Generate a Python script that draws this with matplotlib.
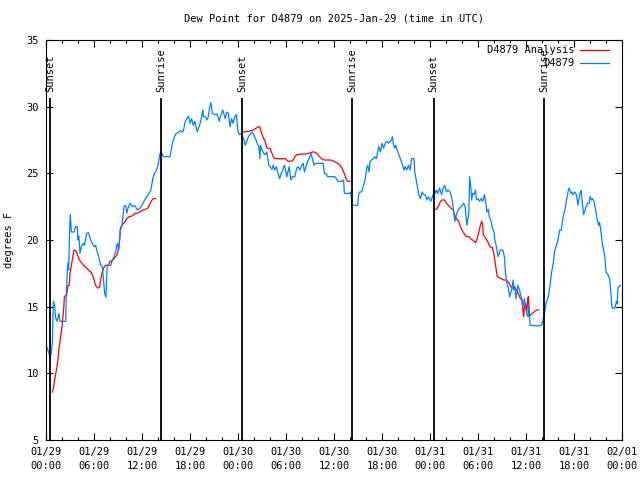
import numpy as np
import matplotlib
matplotlib.use("Agg")
import matplotlib.pyplot as plt

plt.rcParams['font.family'] = ['DejaVu Sans Mono']
plt.rcParams['font.size'] = 7.5

# hours since 2025-01-29 00:00 UTC, dew point in F
obs_hours = [0.08, 0.375, 0.5, 0.65, 0.8, 0.92, 1.08, 1.2, 1.4, 1.6, 1.75, 2.0, 2.46, 2.54, 2.67, 2.75, 2.83,
             2.96, 3.04, 3.17, 3.5, 3.7, 3.9, 4.0, 4.1, 4.25, 4.4, 4.65, 4.8, 5.08, 5.3, 5.58, 5.8, 6.0, 6.2,
             6.4, 6.6, 6.83, 7.05, 7.2, 7.33, 7.5, 7.58, 7.67, 8.08, 8.3, 8.5, 8.7, 8.9, 9.1, 9.3, 9.5, 9.65,
             9.75, 9.95, 10.1, 10.25, 10.5, 10.8, 11.1, 11.4, 11.75, 12.0, 12.33, 12.6, 12.9, 13.1, 13.4, 13.6,
             13.8, 14.0, 14.25, 14.4, 14.7, 15.5, 15.7, 15.9, 16.2, 16.5, 16.8, 17.1, 17.25, 17.4, 17.6, 17.8,
             18.0, 18.2, 18.4, 18.6, 18.9, 19.2, 19.4, 19.6, 19.7, 19.9, 20.1, 20.3, 20.4, 20.6, 20.8, 21.1,
             21.4, 21.65, 21.8, 22.1, 22.4, 22.6, 22.8, 23.0, 23.2, 23.4, 23.6, 23.8, 24.0, 24.2, 24.4, 24.7,
             24.9, 25.1, 25.3, 25.5, 25.75, 25.95, 26.2, 26.4, 26.6, 26.75, 26.8, 27.0, 27.2, 27.4, 27.6,
             27.85, 28.0, 28.25, 28.4, 28.6, 28.8, 29.0, 29.2, 29.4, 29.6, 29.8, 29.95, 30.1, 30.3, 30.4,
             30.6, 30.8, 31.1, 31.35, 31.5, 31.75, 31.95, 32.15, 32.3, 32.5, 32.7, 32.9, 33.1, 33.3, 33.5,
             33.7, 34.45, 34.65, 34.8, 35.0, 35.2, 36.1, 36.3, 36.5, 36.96, 37.2, 37.3, 37.6, 38.0, 38.1,
             38.25, 38.95, 39.1, 39.2, 39.45, 39.7, 39.9, 40.1, 40.2, 40.4, 40.5, 40.7, 40.9, 41.1, 41.3,
             41.5, 41.6, 41.8, 42.0, 42.2, 42.4, 42.6, 42.8, 43.0, 43.2, 43.3, 43.45, 43.6, 43.7, 43.9, 44.1,
             44.3, 44.5, 44.75, 44.9, 45.1, 45.3, 45.5, 45.7, 46.0, 46.1, 46.4, 46.6, 46.8, 47.0, 47.2, 47.4,
             47.6, 47.8, 48.1, 48.4, 48.5, 48.7, 48.8, 49.0, 49.2, 49.45, 49.65, 49.85, 50.05, 50.25, 50.5,
             50.7, 50.9, 51.1, 51.3, 51.5, 51.9, 52.2, 52.4, 52.5, 52.6, 52.85, 52.95, 53.1, 53.2, 53.35,
             53.5, 53.7, 53.8, 54.0, 54.2, 54.4, 54.6, 54.8, 55.0, 55.1, 55.3, 55.4, 55.6, 55.8, 56.0, 56.1,
             56.3, 56.5, 56.7, 56.8, 57.1, 57.3, 57.4, 57.6, 57.8, 57.95, 58.2, 58.4, 58.5, 58.6, 58.75,
             58.9, 59.0, 59.2, 59.5, 59.6, 59.8, 59.95, 60.1, 60.25, 60.4, 60.5, 60.9, 61.3, 61.9, 62.1,
             62.3, 62.5, 62.8, 63.0, 63.2, 63.4, 63.6, 63.8, 64.0, 64.2, 64.4, 64.6, 64.9, 65.1, 65.3, 65.4,
             65.6, 65.7, 65.9, 66.1, 66.3, 66.5, 66.7, 66.9, 67.0, 67.2, 67.4, 67.5, 67.7, 67.9, 68.0, 68.2,
             68.3, 68.5, 68.7, 68.9, 69.1, 69.2, 69.4, 69.5, 69.7, 69.85, 70.0, 70.25, 70.45, 70.6, 70.75,
             71.1, 71.3, 71.4, 71.5, 71.8]
obs_dewpt = [12.0, 11.5, 11.15, 11.5, 12.4, 15.4, 15.1, 14.15, 13.9, 14.5, 13.9, 13.9, 13.9, 16.0, 17.75, 18.3, 17.75,
             20.9, 21.9, 20.6, 20.6, 21.0, 21.0, 20.0, 20.3, 19.0, 19.5, 19.75, 19.6, 20.5, 20.55, 20.0, 19.75, 19.5, 19.6,
             19.1, 18.75, 18.1, 18.0, 16.9, 16.0, 15.7, 17.3, 18.1, 18.1, 18.5, 18.75, 19.1, 19.75, 19.25, 20.75, 21.1, 22.0,
             22.5, 22.6, 22.0, 22.4, 22.75, 22.5, 22.6, 22.25, 22.4, 22.6, 23.0, 23.25, 23.5, 23.75, 24.75, 25.0,
             25.25, 25.6, 26.5, 26.6, 26.25, 26.25, 26.9, 27.5, 27.95, 28.05, 28.2, 28.1, 28.4, 28.9, 29.1, 29.3,
             28.75, 29.1, 28.6, 28.9, 28.1, 28.6, 29.1, 29.75, 29.25, 29.25, 29.0, 29.25, 29.75, 30.3, 29.5, 29.4,
             29.45, 28.9, 29.25, 29.75, 29.1, 29.6, 29.5, 28.5, 29.1, 28.75, 29.25, 29.4, 28.1, 27.9, 28.0, 27.6,
             27.1, 27.4, 27.75, 27.9, 28.1, 27.9, 27.6, 27.25, 27.0, 26.1, 27.1, 26.75, 26.5, 26.4, 26.6,
             25.6, 25.5, 25.3, 25.6, 25.25, 25.5, 25.0, 24.6, 25.0, 25.25, 25.6, 25.25, 24.75, 25.25, 25.5,
             24.5, 24.75, 24.75, 25.4, 25.5, 25.25, 25.6, 25.75, 25.1, 25.5, 25.9, 26.1, 26.5, 26.1, 25.6,
             25.75, 25.75, 25.75, 25.0, 25.0, 24.75, 24.75, 24.6, 24.4, 24.4, 24.5, 23.5, 23.5, 23.5, 23.6,
             22.6, 22.6, 23.5, 23.6, 23.6, 24.1, 24.6, 25.4, 25.6, 25.1, 25.9, 26.0, 26.1, 26.25, 26.1,
             26.75, 27.0, 26.6, 27.25, 26.9, 27.25, 27.4, 27.25, 27.4, 27.5, 27.75, 27.1, 26.9, 27.1, 26.75, 26.4,
             26.1, 25.75, 25.25, 25.5, 25.25, 25.6, 25.25, 26.1, 26.1, 25.1, 24.1, 23.4, 23.1, 23.6, 23.4, 23.4,
             23.0, 23.25, 22.9, 23.4, 23.75, 23.5, 23.75, 23.5, 23.9, 23.4, 23.9, 24.1, 23.6, 23.75, 23.6,
             23.25, 22.4, 21.4, 21.9, 22.25, 22.5, 22.75, 22.5, 21.75, 21.1, 22.0, 24.75, 24.0, 23.0, 23.5,
             23.4, 23.75, 23.0, 23.1, 22.9, 23.1, 22.9, 23.4, 22.75, 22.1, 22.3, 21.75, 21.5, 20.9, 20.6, 20.0,
             19.5, 18.75, 19.1, 19.25, 19.25, 18.75, 17.75, 16.75, 16.4, 15.75, 16.25, 17.0, 16.25, 16.5, 15.6,
             16.2, 16.6, 16.2, 15.5, 15.0, 15.6, 14.9, 14.5, 14.25, 15.0, 13.6, 13.6, 13.55, 13.6, 13.9,
             14.5, 15.25, 15.75, 16.6, 17.6, 18.25, 19.25, 19.6, 20.0, 20.75, 20.7, 21.6, 22.4, 23.1, 23.75, 23.9,
             23.5, 23.6, 23.4, 23.6, 23.4, 22.6, 23.4, 23.75, 23.0, 21.9, 22.25, 22.5, 22.75, 22.75, 23.25, 23.0,
             23.1, 22.9, 22.25, 21.5, 21.1, 21.3, 20.5, 19.9, 19.25, 18.75, 17.6, 17.4, 17.1, 16.1, 14.9,
             14.9, 15.4, 15.2, 16.4, 16.6]

anl_hours = [0.8, 0.95, 1.1, 1.3, 1.5, 1.6, 1.8, 2.0, 2.2, 2.3, 2.6, 2.75, 2.9, 3.0, 3.25, 3.5, 3.7, 3.9, 4.1,
             4.3, 4.5, 4.7, 4.9, 5.1, 5.3, 5.6, 5.8, 6.0, 6.2, 6.45, 6.7, 6.9, 7.1, 7.4, 7.8, 8.0, 8.2, 8.5,
             8.7, 8.9, 9.1, 9.2, 9.3, 9.5, 9.9, 10.1, 10.4, 10.75, 11.1, 11.4, 11.7, 12.0, 12.4, 12.75, 12.9,
             13.2, 13.4, 13.7,
             np.nan,
             24.7, 25.3, 25.9, 26.3, 26.6, 26.7, 26.9, 27.1, 27.4, 27.6, 28.0, 28.25, 28.4, 28.6, 29.25, 29.9,
             30.1, 30.3, 30.6, 30.9, 31.1, 31.35, 31.5, 32.0, 32.4, 32.9, 33.3, 33.6, 33.9, 34.2, 34.45, 34.75,
             35.2, 35.6, 36.0, 36.45, 36.75, 37.0, 37.2, 37.35, 37.5, 37.7, 38.0,
             np.nan,
             48.5, 48.8, 49.1, 49.3, 49.5, 49.8, 50.0, 50.3, 50.6, 50.9, 51.0, 51.3, 51.6, 51.8, 52.0, 52.25,
             52.45, 52.7, 52.9, 53.1, 53.3, 53.5, 53.7, 53.9, 54.1, 54.3, 54.45, 54.6, 54.65, 55.0, 55.2, 55.4,
             55.6, 55.8, 56.0, 56.2, 56.4, 56.6, 56.9, 57.2, 57.5, 57.7, 57.9, 58.1, 58.3, 58.6, 58.8, 59.1,
             59.3, 59.5, 59.6, 59.7, 59.8, 59.95, 60.1, 60.2, 60.3, 60.4, 60.6, 60.8, 61.0, 61.3, 61.6]
anl_dewpt = [8.6, 9.0, 9.6, 10.25, 11.0, 11.75, 12.6, 13.5, 14.75, 15.75, 15.9, 16.6, 16.6, 17.5, 18.4, 19.25, 19.2,
             19.0, 18.6, 18.4, 18.25, 18.1, 18.0, 17.9, 17.75, 17.6, 17.4, 17.0, 16.6, 16.4, 16.45, 17.25, 17.75,
             18.1, 18.1, 18.4, 18.4, 18.6, 18.75, 18.9, 19.5, 20.0, 20.9, 21.1, 21.4, 21.6, 21.75, 21.8, 22.0,
             22.0, 22.1, 22.2, 22.3, 22.4, 22.6, 22.95, 23.1, 23.1,
             np.nan,
             28.1, 28.15, 28.25, 28.4, 28.5, 28.5, 28.1, 27.75, 27.4, 26.9, 26.85, 26.5, 26.25, 26.1, 26.1, 26.1,
             26.0, 25.9, 25.9, 26.0, 26.25, 26.4, 26.4, 26.45, 26.45, 26.5, 26.6, 26.6, 26.45, 26.25, 26.1, 26.0,
             26.0, 26.0, 25.9, 25.75, 25.6, 25.4, 25.1, 24.9, 24.6, 24.4, 24.4,
             np.nan,
             22.3, 22.3, 22.6, 22.9, 23.0, 23.0, 22.8, 22.6, 22.4, 22.25, 22.0, 21.6, 21.4, 21.0, 20.75, 20.5,
             20.3, 20.25, 20.25, 20.1, 20.0, 19.9, 19.8, 20.1, 20.6, 21.1, 21.4, 21.1, 20.4, 20.1, 19.9, 19.6,
             19.45, 19.45, 18.9, 18.1, 17.25, 17.2, 17.1, 17.0, 17.0, 16.9, 16.75, 16.5, 16.4, 16.4, 16.25, 15.9,
             15.6, 15.5, 14.75, 14.25, 15.0, 15.25, 14.6, 15.5, 15.75, 14.25, 14.4, 14.5, 14.6, 14.75, 14.75]

sunset_hours = [0.55, 24.55, 48.45]
sunrise_hours = [14.35, 38.3, 62.3]

tick_hours = list(range(0, 73, 6))
tick_labels = ["01/29\n00:00", "01/29\n06:00", "01/29\n12:00", "01/29\n18:00",
               "01/30\n00:00", "01/30\n06:00", "01/30\n12:00", "01/30\n18:00",
               "01/31\n00:00", "01/31\n06:00", "01/31\n12:00", "01/31\n18:00",
               "02/01\n00:00"]

fig = plt.figure(figsize=(6.4, 4.8), dpi=100)
ax = fig.add_axes([46 / 640, 40 / 480, 576 / 640, 400 / 480])

ax.plot(anl_hours, anl_dewpt, color='#ff0000', lw=0.9, label="D4879 Analysis")
ax.plot(obs_hours, obs_dewpt, color='#0080ff', lw=0.9, label="D4879")

for h in sunset_hours:
    ax.plot([h, h], [5, 30.6], color='black', lw=1.3)
    ax.text(h, 31.1, "Sunset", rotation=90, ha='center', va='bottom')
for h in sunrise_hours:
    ax.plot([h, h], [5, 30.6], color='black', lw=1.3)
    ax.text(h, 31.1, "Sunrise", rotation=90, ha='center', va='bottom')

ax.set_xlim(0, 72)
ax.set_ylim(5, 35)
ax.set_xticks(tick_hours)
ax.set_xticklabels(tick_labels, linespacing=1.45)
ax.set_xticks(range(0, 73, 2), minor=True)
ax.set_yticks(range(5, 36, 5))
ax.tick_params(which='both', direction='in', top=True, right=True, width=0.8)
ax.tick_params(which='major', length=5, pad=5)
ax.tick_params(which='minor', length=2.5)
for s in ax.spines.values():
    s.set_linewidth(0.8)

ax.set_ylabel("degrees F")
ax.yaxis.set_label_coords(-0.055, 0.5)
ax.set_title("Dew Point for D4879 on 2025-Jan-29 (time in UTC)", fontsize=7.5, pad=13)

leg = ax.legend(loc='upper right', bbox_to_anchor=(0.99, 1.004), frameon=False, markerfirst=False,
                handlelength=2.8, handletextpad=0.6, borderaxespad=0.25, labelspacing=0.3)
for t in leg.get_texts():
    t.set_ha('right')

fig.savefig("out.png", dpi=100)
